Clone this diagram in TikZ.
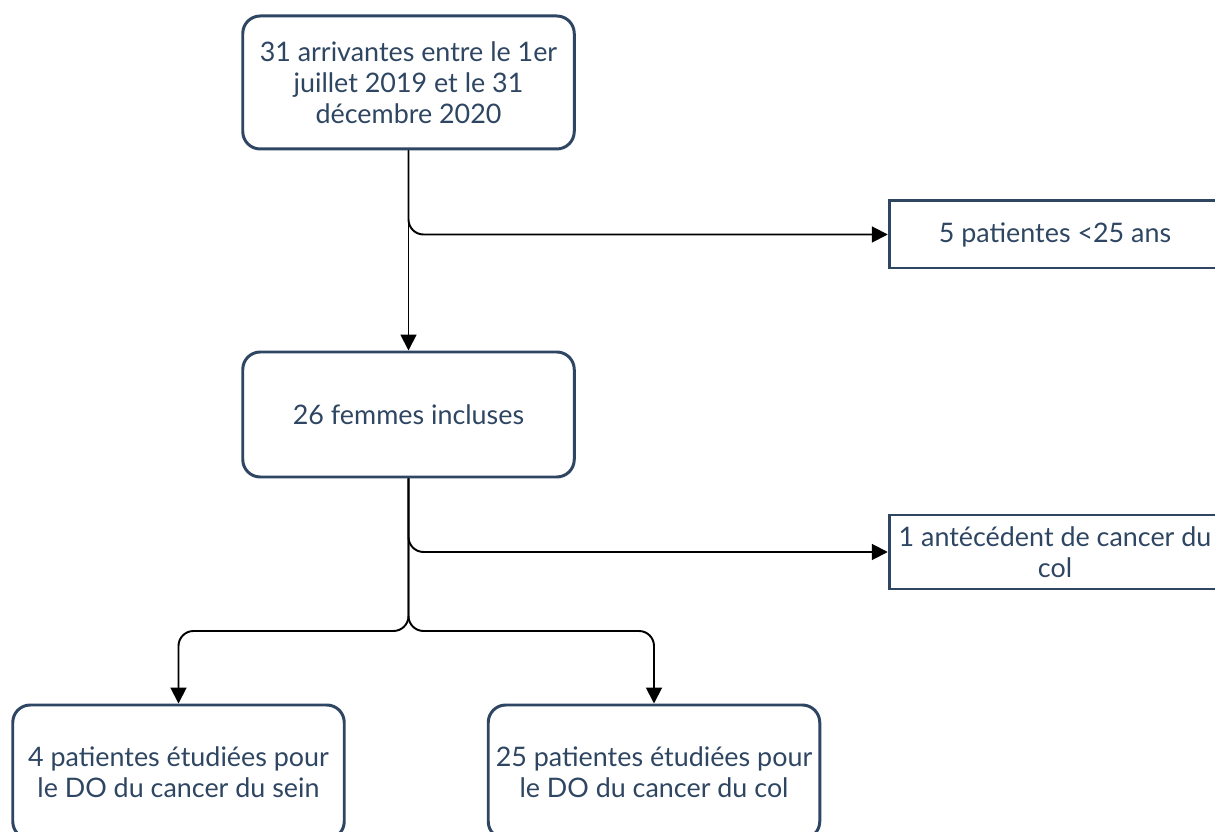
\documentclass[tikz,border=0pt]{standalone}
\usepackage{fontspec}
\setmainfont{Lato}
\usetikzlibrary{arrows.meta}
\definecolor{navy}{RGB}{46,70,98}
\tikzset{
  box/.style={draw=navy,line width=1.7pt,text=navy,align=center,
    font=\fontsize{15.3}{17.5}\selectfont,minimum width=6.63cm,inner sep=0pt},
  rbox/.style={box,rounded corners=0.35cm},
  arr/.style={-{Triangle[length=9pt,width=9pt]},line width=1.1pt,rounded corners=0.3cm}
}
\begin{document}
\begin{tikzpicture}
  \useasboundingbox (0,0) rectangle (24.3,-16.64);
  % boxes
  \node[rbox,minimum height=2.66cm] (start) at (8.17,-1.65) {31 arrivantes entre le 1er\\juillet 2019 et le 31\\décembre 2020};
  \node[rbox,minimum height=2.5cm] (incl) at (8.17,-8.29) {26 femmes incluses};
  \node[box,minimum height=1.34cm] (excla) at (21.1,-4.69) {5 patientes <25 ans};
  \node[box,minimum height=1.48cm] (exclb) at (21.1,-11.04) {1 antécédent de cancer du\\col};
  \node[rbox,minimum height=2.68cm] (sein) at (3.57,-15.44) {4 patientes étudiées pour\\le DO du cancer du sein};
  \node[rbox,minimum height=2.68cm] (col) at (13.08,-15.44) {25 patientes étudiées pour\\le DO du cancer du col};
  \coordinate (split) at (8.17,-12.62);
  % connectors
  \draw[arr] (start.south)--(incl.north);
  \draw[arr] (start.south) |- (excla.west);
  \draw[arr] (incl.south) |- (exclb.west);
  \draw[arr] (incl.south)--(split) -| (sein.north);
  \draw[arr] (incl.south)--(split) -| (col.north);
\end{tikzpicture}
\end{document}
